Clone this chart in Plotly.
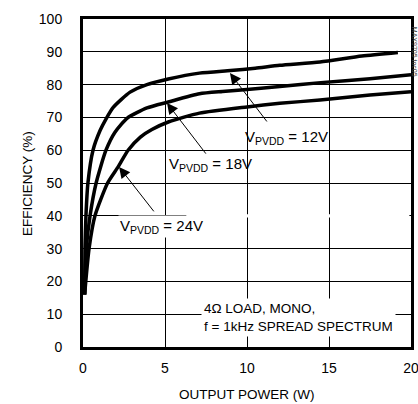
import plotly.graph_objects as go

# Data
x_12v = [0.1, 0.12, 0.18, 0.3, 0.61, 1.04, 1.4, 1.83, 2.87, 3.9, 5.2, 7.1, 9.0, 10.5, 12.0, 14.45, 17.0, 19.2]
y_12v = [16, 30, 40, 50, 60, 66, 69.5, 73, 77.7, 80, 81.7, 83.5, 84.3, 85, 85.9, 86.9, 88.7, 89.8]

x_18v = [0.1, 0.2, 0.43, 0.8, 1.4, 1.95, 2.7, 3.9, 5.2, 7.1, 8.5, 10, 12, 14.5, 17.5, 20]
y_18v = [16, 30, 40, 50, 60, 65.5, 69.8, 72.9, 74.7, 77.2, 77.9, 78.5, 79.4, 80.6, 81.8, 83]

x_24v = [0.1, 0.37, 0.73, 1.5, 2.15, 2.75, 3.5, 4.2, 5.2, 7.1, 10, 12, 14.45, 17.5, 20]
y_24v = [16, 30, 40, 50, 55, 60, 64, 66.3, 68.6, 71.3, 73.2, 74.3, 75.3, 76.8, 77.8]

x_ticks = [0, 5, 10, 15, 20]
y_ticks = [0, 10, 20, 30, 40, 50, 60, 70, 80, 90, 100]

FONT = "Liberation Sans, Arial, sans-serif"

fig = go.Figure()
for xs, ys in [(x_12v, y_12v), (x_18v, y_18v), (x_24v, y_24v)]:
    fig.add_trace(go.Scatter(x=xs, y=ys, mode="lines",
                             line=dict(color="black", width=3.5, shape="spline", smoothing=0.6),
                             showlegend=False, hoverinfo="skip"))

# arrows (tail -> tip) in data coords
arrows = [
    (11.28, 68.3, 8.96, 83.5),
    (7.56, 58.5, 5.12, 74.4),
    (4.39, 40.9, 2.2, 54.9),
]
for tx, ty, hx, hy in arrows:
    fig.add_annotation(x=hx, y=hy, ax=tx, ay=ty, xref="x", yref="y", axref="x", ayref="y",
                       text="", showarrow=True, arrowhead=2, arrowsize=2.2, arrowwidth=1,
                       arrowcolor="black")

labels = [
    ("V<sub>PVDD</sub> = 12V", 12.4, 64.0, None),
    ("V<sub>PVDD</sub> = 18V", 7.75, 55.5, None),
    ("V<sub>PVDD</sub> = 24V", 4.8, 36.8, "white"),
]
for t, x, y, bg in labels:
    fig.add_annotation(x=x, y=y, xref="x", yref="y", text=t, showarrow=False,
                       font=dict(family=FONT, size=15, color="black"),
                       bgcolor=bg, borderpad=1)

fig.add_annotation(x=7.2, y=9.0, xref="x", yref="y", xanchor="left", align="left",
                   text="4Ω LOAD, MONO,<br>f = 1kHz SPREAD SPECTRUM", showarrow=False,
                   font=dict(family=FONT, size=13.5, color="black"),
                   bgcolor="white", borderpad=2)

# white gap in 40% gridline right of 24V label
fig.add_shape(type="rect", x0=6.3, x1=19.9, y0=39.5, y1=40.5, xref="x", yref="y",
              fillcolor="white", line=dict(width=0), layer="between")

# axis titles
fig.add_annotation(x=-0.171, y=0.5, xref="paper", yref="paper", text="EFFICIENCY (%)",
                   xanchor="center", yanchor="middle",
                   textangle=-90, showarrow=False, font=dict(family=FONT, size=13.5, color="black"))
fig.add_annotation(x=0.5, y=-0.146, xref="paper", yref="paper", text="OUTPUT POWER (W)",
                   xanchor="center", yanchor="middle",
                   showarrow=False, font=dict(family=FONT, size=13.5, color="black"))
fig.add_annotation(x=1.009, y=0.9, xref="paper", yref="paper", text="MAX9705 toc05",
                   xanchor="center", yanchor="middle",
                   textangle=90, showarrow=False, font=dict(family=FONT, size=7, color="#444"))

fig.update_xaxes(range=[0, 20], tickvals=x_ticks, showgrid=True, gridcolor="black", gridwidth=1,
                 showline=True, linecolor="black", linewidth=3, mirror=True, zeroline=False,
                 automargin=False, ticklabeloverflow="allow",
                 ticks="", ticklabelstandoff=6, tickfont=dict(family=FONT, size=14, color="black"))
fig.update_yaxes(range=[0, 100], tickvals=y_ticks, showgrid=True, gridcolor="black", gridwidth=1,
                 showline=True, linecolor="black", linewidth=3, mirror=True, zeroline=False,
                 automargin=False,
                 ticks="", ticklabelstandoff=15, tickfont=dict(family=FONT, size=14, color="black"))

fig.update_layout(width=418, height=404, margin=dict(l=83, r=7, t=19, b=57),
                  paper_bgcolor="white", plot_bgcolor="white")

fig.write_html("out.html", config={"displayModeBar": False},
               post_script="document.body.style.margin='0';document.body.style.overflow='hidden';")
